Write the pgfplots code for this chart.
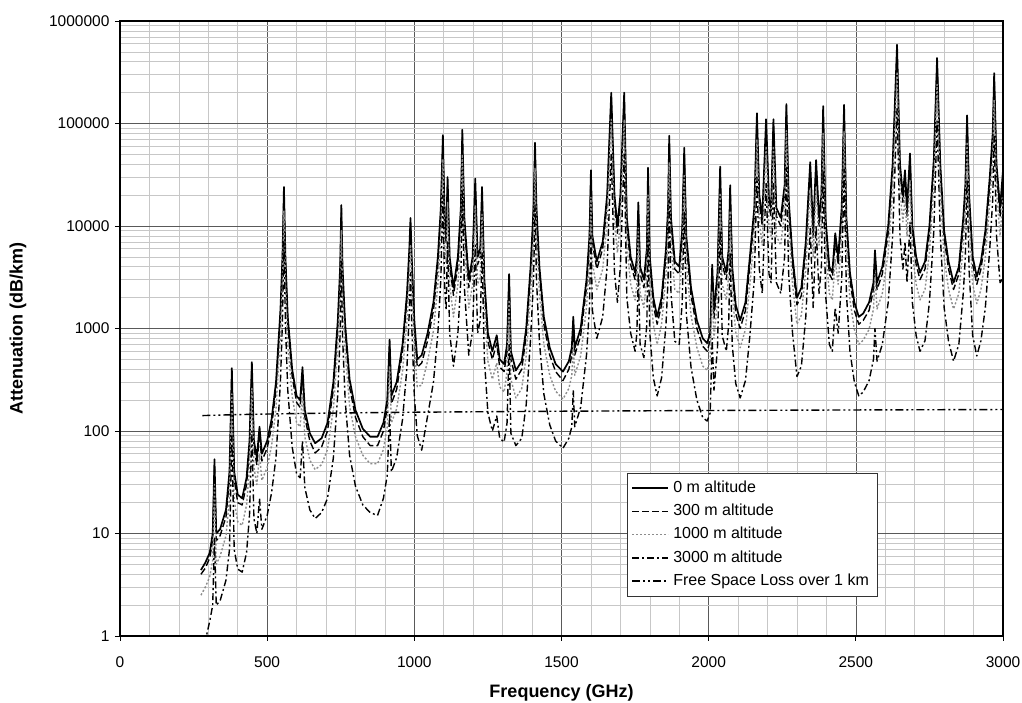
\documentclass[border=0pt]{standalone}
\usepackage{pgfplots}
\pgfplotsset{compat=1.18}
\usepackage{pgfplotstable}
\usepackage{fontspec}
\setmainfont{Liberation Sans}

% attenuation in dB/km at four altitudes
\pgfplotstableread{
f a0 a300 a1000 a3000
275 4.4 4.0 2.5 0.6
290 5.2 4.6 3.0 0.9
305 6.5 5.8 3.8 1.4
315 10 8.5 5.5 2.0
321 53 45 30 9
327 10 8.5 5.0 2.0
340 11 9.5 6.0 2.2
360 17 14.5 9.5 3.5
372 40 34 22 7
380 410 350 230 90
388 40 34 21 7
400 24 20 13 4.5
415 22 19 12 4.2
430 35 30 19 6.5
440 80 68 44 15
448 470 400 260 100
455 80 68 44 14
465 55 47 30 10
474 110 94 60 22
482 60 51 33 11
500 80 68 44 15
515 130 110 72 25
530 300 255 165 55
545 1500 1300 850 300
552 5000 4300 2800 1200
557 24000 20000 14000 7000
562 5000 4300 2800 1100
570 1300 1100 700 250
585 400 340 220 70
600 220 190 120 38
612 200 170 110 35
620 420 360 230 80
628 160 136 88 28
645 95 80 52 17
663 76 61 42 14
685 85 70 47 16
705 120 100 66 22
725 300 255 165 55
740 1200 1000 660 230
748 4000 3400 2200 900
752 16000 13500 9000 4500
756 4000 3400 2200 850
765 1100 940 600 200
780 320 270 175 58
800 160 136 88 29
825 105 88 58 19
850 88 72 48 16
875 88 72 48 15
895 120 100 66 22
908 200 170 110 37
916 780 660 430 150
922 220 185 120 40
940 300 255 165 55
960 700 600 385 130
975 2200 1900 1200 420
983 6000 5100 3300 1500
987 12000 10000 6600 3500
991 5000 4300 2800 1100
1000 1200 1000 660 220
1010 500 420 270 90
1025 550 460 280 65
1045 900 760 480 140
1065 1800 1500 950 300
1080 5000 4200 2700 900
1090 15000 12500 8000 3000
1097 77000 65000 45000 20000
1103 12000 10000 6500 2500
1108 8000 6800 4400 1500
1113 30000 25000 17000 7000
1120 5000 4200 2700 900
1133 2500 2100 1300 430
1148 5000 4200 2700 900
1158 15000 12500 8000 3000
1163 87000 73000 50000 22000
1170 12000 10000 6500 2500
1185 3000 2500 1600 550
1198 5000 4200 2700 950
1207 29000 24000 16000 6500
1215 5000 4200 2700 900
1224 6000 5000 3200 1200
1230 24000 20000 13000 5500
1238 3000 2500 1600 500
1250 900 750 480 150
1265 600 500 320 100
1280 860 720 460 140
1290 500 420 270 85
1305 450 380 240 78
1315 700 590 380 120
1322 3400 2900 1900 700
1328 600 500 320 95
1345 390 320 210 72
1365 480 400 260 85
1380 1000 850 540 180
1395 4000 3400 2200 800
1405 15000 12500 8000 3000
1410 65000 55000 37000 16000
1415 15000 12500 8000 3000
1425 4000 3400 2200 750
1440 1300 1100 700 230
1460 650 550 350 115
1480 450 380 245 80
1505 380 310 205 68
1525 480 400 260 85
1535 650 550 350 110
1540 1300 1100 700 250
1545 650 550 350 110
1565 1000 850 540 170
1585 3000 2500 1600 550
1595 8000 6800 4400 1600
1600 35000 29000 19000 8000
1605 8000 6800 4400 1500
1620 4500 3800 2400 800
1640 7000 6000 3800 1300
1655 20000 17000 11000 4000
1669 200000 170000 110000 50000
1680 20000 17000 11000 3500
1690 10000 8500 5500 1800
1700 20000 17000 11000 4000
1713 200000 170000 110000 50000
1722 12000 10000 6500 2000
1735 5000 4200 2700 900
1750 3500 3000 1900 600
1756 5000 4200 2700 900
1761 17000 14000 9500 3500
1767 4000 3400 2200 700
1780 3000 2500 1600 520
1790 6000 5100 3300 1100
1794 37000 31000 20000 8000
1800 5000 4200 2700 900
1812 2000 1700 1100 330
1825 1300 1100 700 220
1840 2000 1700 1100 330
1855 6000 5100 3300 1100
1862 15000 12500 8000 3000
1866 76000 64000 42000 18000
1872 12000 10000 6500 2200
1885 4500 3800 2400 750
1900 4000 3400 2200 700
1910 9000 7600 5000 1800
1917 58000 49000 32000 14000
1924 8000 6800 4400 1400
1940 2500 2100 1350 420
1960 1200 1000 650 200
1980 800 670 430 135
1995 720 600 390 125
2005 900 760 490 150
2012 4200 3500 2300 800
2018 1500 1250 800 250
2030 3500 3000 1900 650
2039 38000 32000 21000 9000
2046 5000 4200 2700 850
2060 3500 3000 1900 600
2068 6000 5000 3300 1100
2073 25000 21000 14000 5500
2080 4000 3400 2200 700
2092 1700 1400 920 290
2107 1200 1000 650 210
2125 1800 1500 980 310
2140 5000 4200 2700 850
2155 15000 12500 8000 3000
2164 126000 106000 70000 30000
2172 20000 17000 11000 3800
2182 12000 10000 6500 2200
2195 110000 92000 60000 26000
2205 18000 15000 10000 3400
2212 15000 12500 8000 2800
2220 110000 92000 60000 26000
2230 15000 12500 8000 2800
2245 12000 10000 6500 2200
2258 25000 21000 14000 5000
2264 155000 130000 85000 37000
2272 18000 15000 10000 3300
2285 5000 4200 2700 900
2300 2000 1700 1100 340
2315 2500 2100 1350 430
2330 7000 6000 3800 1300
2345 42000 35000 23000 9500
2355 9000 7600 5000 1600
2365 44000 37000 24000 10000
2375 12000 10000 6500 2200
2383 20000 17000 11000 4000
2389 148000 125000 80000 35000
2397 12000 10000 6500 2200
2410 4000 3400 2200 700
2420 3500 3000 1900 600
2430 8500 7200 4700 1600
2440 5000 4200 2700 900
2452 15000 12500 8000 3000
2460 152000 128000 84000 36000
2468 12000 10000 6500 2200
2480 3500 3000 1900 600
2495 1800 1500 980 300
2510 1300 1100 700 220
2525 1400 1200 770 240
2545 1800 1500 980 310
2560 2800 2400 1550 500
2565 5800 4900 3200 1000
2572 2800 2400 1550 480
2590 4000 3400 2200 700
2610 10000 8500 5500 1800
2625 40000 34000 22000 8000
2640 586000 490000 320000 140000
2650 40000 34000 22000 8000
2660 20000 17000 11000 3800
2667 35000 29000 19000 7000
2674 15000 12500 8000 2800
2684 51000 43000 28000 11000
2692 10000 8500 5500 1800
2705 5000 4200 2700 850
2718 3500 3000 1900 600
2735 4500 3800 2400 760
2750 10000 8500 5500 1800
2765 45000 38000 25000 9000
2776 436000 370000 240000 105000
2787 40000 34000 22000 8000
2800 9000 7600 5000 1600
2815 4500 3800 2400 750
2832 2800 2400 1550 480
2850 4000 3400 2200 700
2865 12000 10000 6500 2200
2872 25000 21000 14000 5000
2878 120000 100000 66000 28000
2885 20000 17000 11000 3600
2897 5000 4200 2700 850
2911 3200 2700 1750 540
2925 4500 3800 2400 760
2940 9000 7600 5000 1600
2955 30000 25000 17000 6000
2965 80000 67000 44000 18000
2970 310000 260000 170000 75000
2978 40000 34000 22000 8000
2990 15000 12500 8000 2800
3000 35000 29000 19000 3100
}\atten

% free space loss over 1 km (dB)
\pgfplotstableread{
f loss
280 141.4
350 143.3
400 144.5
500 146.4
600 148.0
700 149.3
800 150.5
1000 152.5
1200 154.0
1500 156.0
1800 157.5
2000 158.5
2400 160.1
2700 161.1
3000 162.0
}\fsl

\begin{document}
\begin{tikzpicture}
\useasboundingbox (-120pt,-66pt) rectangle (902pt,636pt);
\begin{axis}[
  scale only axis,
  width=883pt, height=615pt,
  xmin=0, xmax=3000,
  ymode=log, ymin=1, ymax=1000000,
  xtick={0,500,1000,1500,2000,2500,3000},
  xticklabels={0,500,1000,1500,2000,2500,3000},
  minor x tick num=4,
  ytick={1,10,100,1000,10000,100000,1000000},
  yticklabels={1,10,100,1000,10000,100000,1000000},
  minor ytick={2,3,4,5,6,7,8,9,20,30,40,50,60,70,80,90,200,300,400,500,600,700,800,900,2000,3000,4000,5000,6000,7000,8000,9000,20000,30000,40000,50000,60000,70000,80000,90000,200000,300000,400000,500000,600000,700000,800000,900000},
  grid=both,
  major grid style={black!65, line width=0.6pt},
  minor grid style={black!22, line width=0.6pt},
  tick pos=left,
  tick align=outside,
  major tick length=5pt,
  minor tick length=0pt,
  tick style={black, line width=0.8pt},
  axis line style={line width=1.6pt},
  ticklabel style={font=\fontsize{15.5}{18}\selectfont},
  xticklabel style={yshift=-12pt},
  yticklabel style={xshift=-2pt},
  xlabel={Frequency (GHz)},
  ylabel={Attenuation (dB/km)},
  xlabel style={font=\fontsize{18}{21}\selectfont\bfseries, at={(axis description cs:0.5,0)}, anchor=base, yshift=-61pt},
  ylabel style={font=\fontsize{18}{21}\selectfont\bfseries, at={(axis description cs:-0.1155,0.5)}, anchor=center},
  legend style={at={(0.574,0.265)}, anchor=north west, draw=black!80, line width=0.6pt,
    font=\fontsize{16}{19}\selectfont, fill=white,
    nodes={text height=11.5pt, text depth=3pt, inner sep=4.4pt},
    row sep=0pt, inner xsep=4pt, inner ysep=3pt},
  legend cell align=left,
  legend image code/.code={\draw[#1] (0pt,0pt) -- (36pt,0pt);},
  every axis plot/.append style={line join=round},
]
\addplot[black, line width=1.7pt] table[x=f, y=a0] {\atten};
\addplot[black, line width=1.4pt, dash pattern=on 7pt off 3pt] table[x=f, y=a300] {\atten};
\addplot[black!45, line width=1.4pt, dash pattern=on 2pt off 2pt] table[x=f, y=a1000] {\atten};
\addplot[black, line width=1.4pt, dash pattern=on 7pt off 3pt on 2pt off 3pt] table[x=f, y=a3000] {\atten};
\addplot[black, line width=1.4pt, dash pattern=on 8pt off 3pt on 2pt off 3pt on 2pt off 3pt] table[x=f, y=loss] {\fsl};
\legend{0 m altitude, 300 m altitude, 1000 m altitude, 3000 m altitude, Free Space Loss over 1 km}
\end{axis}
\end{tikzpicture}
\end{document}
